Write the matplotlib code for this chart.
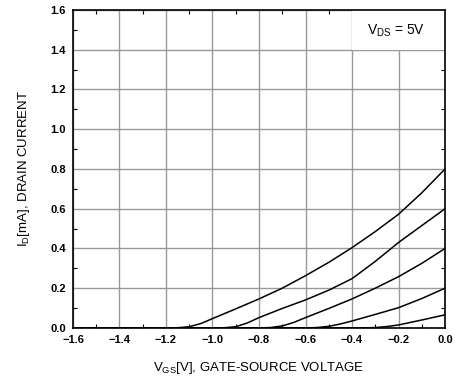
import numpy as np
import matplotlib.pyplot as plt
from matplotlib.patches import Rectangle
from matplotlib.ticker import MultipleLocator

plt.rcParams['font.family'] = ['Liberation Sans', 'DejaVu Sans']
plt.rcParams['mathtext.fontset'] = 'custom'
plt.rcParams['mathtext.rm'] = 'Liberation Sans'

# transfer curves, VGS [V] vs ID [mA]
vgs1 = [-1.6, -1.2, -1.15, -1.1, -1.05, -1.0, -0.9, -0.8, -0.7, -0.6, -0.5, -0.4, -0.3, -0.2, -0.1, 0.0]
id1 = [0.0, 0.0, 0.001, 0.006, 0.022, 0.047, 0.096, 0.146, 0.2, 0.263, 0.33, 0.404, 0.485, 0.572, 0.68, 0.8]
vgs2 = [-1.6, -1.0, -0.95, -0.9, -0.85, -0.8, -0.7, -0.6, -0.5, -0.4, -0.3, -0.2, -0.1, 0.0]
id2 = [0.0, 0.0, 0.001, 0.006, 0.025, 0.052, 0.098, 0.141, 0.19, 0.248, 0.335, 0.43, 0.515, 0.6]
vgs3 = [-1.6, -0.8, -0.75, -0.7, -0.65, -0.6, -0.5, -0.4, -0.3, -0.2, -0.1, 0.0]
id3 = [0.0, 0.0, 0.002, 0.01, 0.028, 0.052, 0.098, 0.146, 0.2, 0.258, 0.325, 0.4]
vgs4 = [-1.6, -0.6, -0.55, -0.5, -0.45, -0.4, -0.3, -0.2, -0.1, 0.0]
id4 = [0.0, 0.0, 0.002, 0.008, 0.02, 0.035, 0.068, 0.102, 0.148, 0.2]
vgs5 = [-1.6, -0.35, -0.3, -0.25, -0.2, -0.1, 0.0]
id5 = [0.0, 0.0, 0.002, 0.007, 0.015, 0.04, 0.066]

fig = plt.figure(figsize=(4.56, 3.84), dpi=100)
ax = fig.add_axes([0.160, 0.146, 0.816, 0.828])

for x, y in [(vgs1, id1), (vgs2, id2), (vgs3, id3), (vgs4, id4), (vgs5, id5)]:
    ax.plot(x, y, 'k-', lw=1.1, zorder=3)

ax.set_xlim(-1.6, 0.0)
ax.set_ylim(0.0, 1.6)
ax.xaxis.set_major_locator(MultipleLocator(0.2))
ax.yaxis.set_major_locator(MultipleLocator(0.2))
ax.xaxis.set_minor_locator(MultipleLocator(0.1))
ax.yaxis.set_minor_locator(MultipleLocator(0.1))
ax.grid(True, which='major', color='#999999', lw=1.0, zorder=1)
ax.tick_params(which='both', direction='in', top=True, right=True,
               labelsize=8, pad=5, width=0.8)
ax.tick_params(which='major', length=0)
ax.tick_params(which='minor', length=3)
for lab in ax.get_xticklabels() + ax.get_yticklabels():
    lab.set_fontweight('bold')
for s in ax.spines.values():
    s.set_linewidth(1.2)

ax.set_xlabel(r'V$_\mathrm{GS}$[V], GATE-SOURCE VOLTAGE', fontsize=9.5, labelpad=11)
ax.set_ylabel(r'I$_\mathrm{D}$[mA], DRAIN CURRENT', fontsize=9.5, labelpad=13)

ax.add_patch(Rectangle((0.75, 0.874), 0.25, 0.126, transform=ax.transAxes,
                       facecolor='white', edgecolor='none', zorder=2))
ax.text(0.868, 0.935, r'V$_\mathrm{DS}$ = 5V', transform=ax.transAxes,
        ha='center', va='center', fontsize=10, zorder=4)

fig.savefig('out.png', dpi=100)
